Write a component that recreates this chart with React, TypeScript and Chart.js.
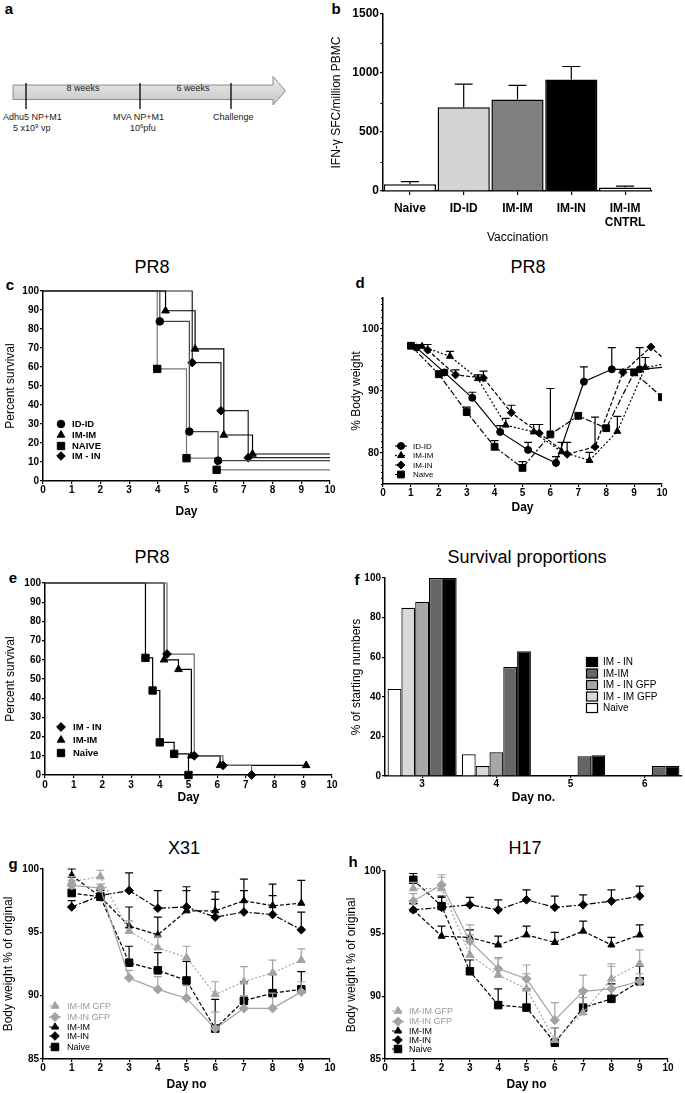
import React, { useEffect, useRef } from 'react';
import { Chart, registerables } from 'chart.js';
Chart.register(...registerables);

const FONT = "'Liberation Sans', Arial, Helvetica, sans-serif";

// ---------------- Panel b: IFN-gamma ELISpot ----------------
const bCategories: any[] = ['Naive', 'ID-ID', 'IM-IM', 'IM-IN', ['IM-IM', 'CNTRL']];
const bValues = [58, 710, 775, 945, 30];
const bErrors = [22, 195, 120, 110, 12];
const bYTicks = [0, 500, 1000, 1500];

// ---------------- Panel c: PR8 survival ----------------
const cIdIdDays = [0, 4.07, 5.1, 6.1, 10];
const cIdIdSurv = [100, 84, 26, 10.7, 10.7];
const cImImDays = [0, 4.27, 5.3, 6.3, 7.3, 10];
const cImImSurv = [100, 89.6, 69.5, 24.2, 14.2, 14.2];
const cNaiveDays = [0, 3.98, 5.0, 6.05, 10];
const cNaiveSurv = [100, 59, 12, 5.9, 5.9];
const cImInDays = [0, 5.2, 6.2, 7.15, 10];
const cImInSurv = [100, 62.3, 37, 12.3, 12.3];

// ---------------- Panel d: PR8 body weight ----------------
const dNaiveDays = [1, 2, 3, 4, 5, 6, 7, 8, 9, 10];
const dNaiveWeight = [97.3, 92.7, 86.6, 81.0, 77.6, 83.0, 86.0, 84.0, 93.0, 89.0];
const dNaiveErr = [0.4, 0.5, 0.8, 1.0, 1.0, 7.4, 0, 0, 0, 0];
const dIdIdDays = [1.2, 2.2, 3.2, 4.2, 5.2, 6.2, 7.2, 8.2, 9.2, 10.2];
const dIdIdWeight = [97.0, 93.0, 88.9, 83.4, 80.5, 78.4, 91.5, 93.5, 93.5, 93.9];
const dIdIdErr = [0.3, 0.4, 0.9, 1.0, 1.2, 1.0, 2.4, 3.5, 3.5, 0];
const dImImDays = [1.4, 2.4, 3.4, 4.4, 5.4, 6.4, 7.4, 8.4, 9.4, 10.4];
const dImImWeight = [97.2, 95.6, 92.0, 84.5, 83.4, 80.2, 78.8, 83.5, 93.8, 94.6];
const dImImErr = [0.3, 0.8, 0.6, 1.1, 1.2, 1.5, 1.3, 2.4, 1.6, 0];
const dImInDays = [1.6, 2.6, 3.6, 4.6, 5.6, 6.6, 7.6, 8.6, 9.6, 10.6];
const dImInWeight = [96.6, 92.6, 92.1, 86.5, 83.2, 79.8, 81.0, 93.0, 97.1, 93.0];
const dImInErr = [0.9, 0.8, 1.1, 1.2, 1.4, 1.9, 4.8, 0.4, 0, 0];
const dYTicks = [80, 90, 100];

// ---------------- Panel e: PR8 survival ----------------
const eImInDays = [0, 4.25, 5.2, 6.2, 7.2];
const eImInSurv = [100, 63, 10, 5, 0];
const eImImDays = [0, 4.15, 4.65, 5.1, 6.1, 9.1];
const eImImSurv = [100, 60, 55, 10, 5, 5];
const eNaiveDays = [0, 3.5, 3.75, 4.0, 4.5, 5.0];
const eNaiveSurv = [100, 61, 44, 17, 11, 0];

// ---------------- Panel f: survival proportions ----------------
const fDays = ['3', '4', '5', '6'];
const fNaive = [44, 11, 0, 0];
const fImImGfp = [85, 5, 0, 0];
const fImInGfp = [88, 12, 0, 0];
const fImIm = [100, 55, 10, 5];
const fImIn = [100, 63, 10.5, 5];

// ---------------- Panel g: X31 ----------------
const gDays = [1, 2, 3, 4, 5, 6, 7, 8, 9];
const gImImGfp = [99.0, 99.4, 95.1, 93.8, 93.0, 90.1, 91.1, 91.8, 92.8];
const gImImGfpErr = [0.4, 0.5, 0.8, 0.9, 0.9, 1.0, 1.2, 1.0, 0.9];
const gImInGfp = [98.7, 98.5, 91.4, 90.5, 89.8, 87.4, 89.0, 89.0, 90.3];
const gImInGfpErr = [0.4, 0.3, 0.6, 1.0, 1.0, 1.3, 1.0, 1.2, 0.8];
const gImIm = [99.5, 97.8, 95.5, 94.8, 96.7, 96.7, 97.5, 97.1, 97.3];
const gImImErr = [0.5, 0.5, 1.5, 1.4, 1.6, 0.9, 0.8, 0.8, 1.8];
const gImIn = [97.0, 97.9, 98.3, 96.9, 97.0, 96.2, 96.6, 96.4, 95.2];
const gImInErr = [0.5, 0.5, 1.4, 1.4, 1.6, 2.0, 2.6, 2.4, 1.4];
const gNaive = [98.1, 97.8, 92.6, 92.0, 91.2, 87.4, 89.6, 90.2, 90.5];
const gNaiveErr = [0.3, 0.3, 1.3, 1.4, 1.5, 2.3, 1.5, 1.5, 1.4];

// ---------------- Panel h: H17 ----------------
const hDays = [1, 2, 3, 4, 5, 6, 7, 8, 9];
const hImImGfp = [98.6, 98.6, 93.3, 91.7, 90.6, 86.5, 88.7, 91.4, 92.6];
const hImImGfpErr = [0.5, 0.9, 1.6, 1.3, 1.2, 1.0, 1.2, 1.2, 1.1];
const hImInGfp = [97.6, 98.9, 94.4, 92.2, 91.4, 88.1, 90.4, 90.6, 91.2];
const hImInGfpErr = [0.6, 0.8, 1.3, 0.9, 1.1, 1.4, 1.3, 1.8, 0.6];
const hImIm = [96.9, 94.8, 94.7, 94.1, 94.9, 94.3, 95.2, 94.1, 94.9];
const hImImErr = [0.5, 0.8, 0.6, 0.7, 0.7, 0.8, 0.8, 0.6, 0.8];
const hImIn = [96.9, 97.1, 97.3, 96.9, 97.7, 97.1, 97.3, 97.6, 98.0];
const hImInErr = [0.5, 0.8, 0.6, 0.8, 0.8, 0.9, 0.8, 0.9, 0.8];
const hNaive = [99.3, 97.2, 92.0, 89.3, 89.1, 86.3, 89.1, 89.8, 91.2];
const hNaiveErr = [0.5, 0.8, 0.9, 1.3, 1.5, 1.2, 1.4, 1.2, 1.2];

// ================= helpers =================
const fnt = (size: number, weight: any = 'normal') => ({ family: FONT, size, weight, lineHeight: 1.2 });
const tickGrid = (len: number) => ({ display: true, drawOnChartArea: false, drawTicks: true, tickLength: len, color: '#000', lineWidth: 1.2 });
const axisBorder = { display: true, color: '#000', width: 1.5 };
const plainNum = (v: any) => String(v);

function yLin(o: any) {
  const s: any = {
    type: 'linear', position: 'left', min: o.min, max: o.max,
    afterFit: (sc: any) => { sc.width = o.fit; },
    ticks: { stepSize: o.step, color: '#000', font: o.font, padding: 1, autoSkip: false, callback: plainNum },
    grid: tickGrid(3), border: axisBorder,
    title: { display: true, text: o.title, color: '#000', font: o.titleFont, padding: { top: o.titlePad, bottom: 0 } },
  };
  if (o.tickValues) s.afterBuildTicks = (sc: any) => { sc.ticks = o.tickValues.map((v: number) => ({ value: v })); };
  return s;
}
function xLin(o: any) {
  return {
    type: 'linear', position: 'bottom', min: 0, max: 10,
    afterFit: (sc: any) => { sc.height = o.fit; },
    ticks: { stepSize: 1, color: '#000', font: o.font, padding: o.pad, autoSkip: false, maxRotation: 0, callback: plainNum },
    grid: tickGrid(3), border: axisBorder,
    title: { display: true, text: o.title, color: '#000', font: o.titleFont, padding: { top: 0, bottom: 1 } },
  };
}
function xCat(o: any) {
  return {
    type: 'category', position: 'bottom', offset: true,
    afterFit: (sc: any) => { sc.height = o.fit; },
    ticks: { color: '#000', font: o.font, padding: o.pad, autoSkip: false, maxRotation: 0 },
    grid: { ...tickGrid(o.tickLen), offset: false }, border: axisBorder,
    title: { display: true, text: o.title, color: '#000', font: o.titleFont, padding: { top: 0, bottom: 1 } },
  };
}
function baseOptions(pad: any, scales: any) {
  return {
    responsive: false, animation: false, devicePixelRatio: 1, events: [],
    layout: { padding: pad },
    plugins: { legend: { display: false }, tooltip: { enabled: false }, title: { display: false } },
    scales,
  };
}
function pts(xs: number[], ys: number[]) { return xs.map((x, i) => ({ x, y: ys[i] })); }

function lineDs(label: string, xs: number[], ys: number[], st: any) {
  return {
    label, data: pts(xs, ys),
    borderColor: st.color, backgroundColor: st.fill || st.color,
    borderWidth: st.width || 1.2, borderDash: st.dash || [],
    pointStyle: st.point, pointRadius: st.r, pointBackgroundColor: st.fill || st.color,
    pointBorderColor: st.color, pointBorderWidth: 1, tension: 0, fill: false,
    stepped: st.stepped || false, clip: st.clip === undefined ? false : st.clip,
    errorBars: st.err, errorCap: st.cap || 8, legendR: st.legendR,
  };
}

function drawMarker(ctx: CanvasRenderingContext2D, style: string, x: number, y: number, r: number, fill: string, stroke: string) {
  ctx.beginPath();
  if (style === 'circle') ctx.arc(x, y, r, 0, Math.PI * 2);
  else if (style === 'triangle') {
    let a = 0;
    ctx.moveTo(x + Math.sin(a) * r, y - Math.cos(a) * r);
    a += (2 * Math.PI) / 3; ctx.lineTo(x + Math.sin(a) * r, y - Math.cos(a) * r);
    a += (2 * Math.PI) / 3; ctx.lineTo(x + Math.sin(a) * r, y - Math.cos(a) * r);
    ctx.closePath();
  } else if (style === 'rect') {
    const s = Math.SQRT1_2 * r; ctx.rect(x - s, y - s, 2 * s, 2 * s);
  } else if (style === 'rectRot') {
    ctx.moveTo(x - r, y); ctx.lineTo(x, y - r); ctx.lineTo(x + r, y); ctx.lineTo(x, y + r); ctx.closePath();
  }
  ctx.fillStyle = fill; ctx.fill();
  ctx.lineWidth = 1; ctx.strokeStyle = stroke; ctx.setLineDash([]); ctx.stroke();
}

const errorBarPlugin = {
  id: 'errorBars',
  beforeDatasetDraw(chart: any, args: any) {
    const ds: any = chart.data.datasets[args.index];
    const errs = ds.errorBars;
    if (!errs) return;
    const meta = chart.getDatasetMeta(args.index);
    const yScale = chart.scales[meta.yAxisID];
    const ctx = chart.ctx;
    ctx.save();
    ctx.strokeStyle = ds.errorColor || (typeof ds.borderColor === 'string' ? ds.borderColor : '#000');
    ctx.lineWidth = 1.2;
    ctx.setLineDash([]);
    const cap = (ds.errorCap || 8) / 2;
    meta.data.forEach((el: any, i: number) => {
      const e = errs[i];
      if (!e) return;
      const raw = ds.data[i];
      const v = typeof raw === 'number' ? raw : raw.y;
      const x = el.x, y0 = el.y, y1 = yScale.getPixelForValue(v + e);
      ctx.beginPath();
      ctx.moveTo(x, y0); ctx.lineTo(x, y1);
      ctx.moveTo(x - cap, y1); ctx.lineTo(x + cap, y1);
      ctx.stroke();
    });
    ctx.restore();
  },
};

function minorTicks(values: number[], len: number) {
  return {
    id: 'minorTicks',
    afterDraw(chart: any) {
      const s = chart.scales.y; const ctx = chart.ctx;
      ctx.save(); ctx.strokeStyle = '#000'; ctx.lineWidth = 1.1;
      values.forEach((v) => {
        const p = Math.round(s.getPixelForValue(v)) + 0.5;
        ctx.beginPath(); ctx.moveTo(s.right - len, p); ctx.lineTo(s.right, p); ctx.stroke();
      });
      ctx.restore();
    },
  };
}

function makeLegend(spec: any) {
  return {
    id: 'pageLegend',
    afterDraw(chart: any) {
      const ctx = chart.ctx;
      ctx.save();
      spec.items.forEach((it: any, i: number) => {
        const ds: any = chart.data.datasets[it.ds];
        const x = spec.x - spec.left, y = spec.y[i] - spec.top;
        if (spec.box) {
          ctx.fillStyle = ds.backgroundColor; ctx.strokeStyle = '#000'; ctx.lineWidth = 1.2;
          ctx.fillRect(x - spec.box.w / 2, y - spec.box.h / 2, spec.box.w, spec.box.h);
          ctx.strokeRect(x - spec.box.w / 2, y - spec.box.h / 2, spec.box.w, spec.box.h);
        } else {
          if (spec.lineLen) {
            ctx.strokeStyle = ds.borderColor; ctx.lineWidth = ds.borderWidth;
            ctx.setLineDash(ds.borderDash || []);
            ctx.beginPath(); ctx.moveTo(x - spec.lineLen / 2, y); ctx.lineTo(x + spec.lineLen / 2, y); ctx.stroke();
          }
          const r = ds.legendR || (Array.isArray(ds.pointRadius) ? Math.max(...ds.pointRadius) : ds.pointRadius);
          drawMarker(ctx, ds.pointStyle, x, y, r, ds.pointBackgroundColor, ds.pointBorderColor);
        }
        ctx.fillStyle = it.color || '#000';
        ctx.font = spec.font;
        ctx.textBaseline = 'middle'; ctx.textAlign = 'left';
        ctx.fillText(ds.label, spec.textX - spec.left, y + 0.5);
      });
      ctx.restore();
    },
  };
}

function ChartCanvas({ left, top, width, height, make }: any) {
  const ref = useRef<HTMLCanvasElement | null>(null);
  useEffect(() => {
    const chart = new Chart(ref.current as HTMLCanvasElement, make());
    return () => chart.destroy();
  }, []);
  return <canvas ref={ref} width={width} height={height} style={{ position: 'absolute', left, top, width, height }} />;
}

function Txt({ x, y, size, weight, children }: any) {
  return (
    <div style={{ position: 'absolute', left: x, top: y, transform: 'translate(-50%, -50%)', fontFamily: FONT, fontSize: size, fontWeight: weight || 'normal', whiteSpace: 'nowrap', color: '#000', lineHeight: 1.15 }}>
      {children}
    </div>
  );
}

// ================= chart configs =================
function makeB() {
  return {
    type: 'bar',
    data: {
      labels: bCategories,
      datasets: [{
        label: 'IFN-γ', data: bValues,
        backgroundColor: ['#ffffff', '#d4d4d4', '#7f7f7f', '#000000', '#ffffff'],
        borderColor: '#000', borderWidth: 1.5, barPercentage: 1, categoryPercentage: 0.97,
        errorBars: bErrors, errorCap: 18, errorColor: '#000',
      }],
    },
    options: baseOptions({ top: 14, right: 8, left: 0, bottom: 0 }, {
      x: xCat({ fit: 55, font: fnt(12, 'bold'), pad: 6, tickLen: 4, title: 'Vaccination', titleFont: fnt(12) }),
      y: yLin({ min: 0, max: 1500, step: 500, fit: 55, font: fnt(12, 'bold'), tickValues: bYTicks, title: 'IFN-γ SFC/million PBMC', titleFont: fnt(12), titlePad: 1.8 }),
    }),
    plugins: [errorBarPlugin, minorTicks([250, 750, 1250], 2.5)],
  };
}

function makeC() {
  const L = 0, T = 280;
  const rr = (n: number, r: number) => Array.from({ length: n }, (_, i) => (i === 0 || i === n - 1 ? 0 : r));
  return {
    type: 'line',
    data: {
      datasets: [
        lineDs('ID-ID', cIdIdDays, cIdIdSurv, { color: '#444', fill: '#000', point: 'circle', r: rr(cIdIdDays.length, 3.8), stepped: true, legendR: 3.8 }),
        lineDs('IM-IM', cImImDays, cImImSurv, { color: '#000', fill: '#000', point: 'triangle', r: rr(cImImDays.length, 4.4), stepped: true, legendR: 4.4 }),
        lineDs('NAIVE', cNaiveDays, cNaiveSurv, { color: '#777', fill: '#000', point: 'rect', r: rr(cNaiveDays.length, 5.2), stepped: true, legendR: 5.2 }),
        lineDs('IM - IN', cImInDays, cImInSurv, { color: '#222', fill: '#000', point: 'rectRot', r: rr(cImInDays.length, 4.3), stepped: true, legendR: 4.3 }),
      ].map((d: any) => ({ ...d, pointBorderColor: '#000' })),
    },
    options: baseOptions({ top: 11, right: 10, left: 0, bottom: 0 }, {
      x: xLin({ fit: 39, font: fnt(10, 'bold'), pad: 0, title: 'Day', titleFont: fnt(12, 'bold') }),
      y: yLin({ min: 0, max: 100, step: 10, fit: 43, font: fnt(10, 'bold'), title: 'Percent survival', titleFont: fnt(12), titlePad: 3.8 }),
    }),
    plugins: [makeLegend({ left: L, top: T, x: 61, textX: 72, y: [424, 435, 446, 456], font: `bold 9.5px ${FONT}`, lineLen: 0, items: [{ ds: 0 }, { ds: 1 }, { ds: 2 }, { ds: 3 }] })],
  };
}

function makeD() {
  const L = 345, T = 290;
  const minors: number[] = [];
  for (let v = 75; v <= 105; v += 1) if (v % 10 !== 0) minors.push(v);
  return {
    type: 'line',
    data: {
      datasets: [
        lineDs('ID-ID', dIdIdDays, dIdIdWeight, { color: '#000', point: 'circle', r: 3.5, err: dIdIdErr, clip: 0 }),
        lineDs('IM-IM', dImImDays, dImImWeight, { color: '#000', point: 'triangle', r: 4, dash: [2, 2], err: dImImErr, clip: 0 }),
        lineDs('IM-IN', dImInDays, dImInWeight, { color: '#000', point: 'rectRot', r: 4, dash: [4, 2], err: dImInErr, clip: 0 }),
        lineDs('Naive', dNaiveDays, dNaiveWeight, { color: '#000', point: 'rect', r: 4.8, dash: [6, 2, 2, 2], err: dNaiveErr, clip: 0 }),
      ],
    },
    options: baseOptions({ top: 8, right: 8, left: 0, bottom: 0 }, {
      x: xLin({ fit: 32, font: fnt(10, 'bold'), pad: 0, title: 'Day', titleFont: fnt(12, 'bold') }),
      y: yLin({ min: 75, max: 105, step: 10, fit: 38, font: fnt(10, 'bold'), tickValues: dYTicks, title: '% Body weight', titleFont: fnt(12), titlePad: 4.8 }),
    }),
    plugins: [errorBarPlugin, minorTicks(minors, 2), makeLegend({ left: L, top: T, x: 401, textX: 413, y: [446, 455.5, 465, 474.5], font: `8px ${FONT}`, lineLen: 12, items: [{ ds: 0 }, { ds: 1 }, { ds: 2 }, { ds: 3 }] })],
  };
}

function makeE() {
  const L = 0, T = 573;
  const rr = (n: number, r: number) => Array.from({ length: n }, (_, i) => (i === 0 ? 0 : r));
  return {
    type: 'line',
    data: {
      datasets: [
        lineDs('IM - IN', eImInDays, eImInSurv, { color: '#666', fill: '#000', point: 'rectRot', r: rr(eImInDays.length, 4.4), stepped: true, legendR: 4.4 }),
        lineDs('IM-IM', eImImDays, eImImSurv, { color: '#000', fill: '#000', point: 'triangle', r: rr(eImImDays.length, 4.4), stepped: true, legendR: 4.4 }),
        lineDs('Naive', eNaiveDays, eNaiveSurv, { color: '#000', fill: '#000', point: 'rect', r: rr(eNaiveDays.length, 5.2), stepped: true, legendR: 5.2 }),
      ].map((d: any) => ({ ...d, pointBorderColor: '#000' })),
    },
    options: baseOptions({ top: 10, right: 10, left: 0, bottom: 0 }, {
      x: xLin({ fit: 31, font: fnt(10, 'bold'), pad: 1, title: 'Day', titleFont: fnt(12, 'bold') }),
      y: yLin({ min: 0, max: 100, step: 10, fit: 45, font: fnt(10, 'bold'), title: 'Percent survival', titleFont: fnt(12), titlePad: 3.8 }),
    }),
    plugins: [makeLegend({ left: L, top: T, x: 61, textX: 73, y: [727, 740, 753], font: `bold 9.5px ${FONT}`, lineLen: 0, items: [{ ds: 0 }, { ds: 1 }, { ds: 2 }] })],
  };
}

function makeF() {
  const L = 345, T = 570;
  const bar = (label: string, data: number[], color: string) => ({ label, data, backgroundColor: color, borderColor: '#000', borderWidth: 1.2, barPercentage: 1, categoryPercentage: 0.93 });
  return {
    type: 'bar',
    data: {
      labels: fDays,
      datasets: [
        bar('Naive', fNaive, '#ffffff'),
        bar('IM - IM GFP', fImImGfp, '#d9d9d9'),
        bar('IM - IN GFP', fImInGfp, '#a6a6a6'),
        bar('IM-IM', fImIm, '#666666'),
        bar('IM - IN', fImIn, '#000000'),
      ],
    },
    options: baseOptions({ top: 8, right: 3, left: 0, bottom: 0 }, {
      x: xCat({ fit: 30, font: fnt(10, 'bold'), pad: 0, tickLen: 2, title: 'Day no.', titleFont: fnt(12, 'bold') }),
      y: yLin({ min: 0, max: 100, step: 20, fit: 40, font: fnt(10, 'bold'), title: '% of starting numbers', titleFont: fnt(12), titlePad: 4.8 }),
    }),
    plugins: [makeLegend({ left: L, top: T, x: 592, textX: 603, y: [662, 673.5, 685, 696.5, 708], font: `10px ${FONT}`, box: { w: 11, h: 9 }, items: [{ ds: 4 }, { ds: 3 }, { ds: 2 }, { ds: 1 }, { ds: 0 }] })],
  };
}

function weightSets(days: number[], s: any) {
  return [
    lineDs('IM-IM GFP', days, s.imImGfp, { color: '#a3a3a3', point: 'triangle', r: 4.6, dash: [2, 2], err: s.imImGfpErr }),
    lineDs('IM-IN GFP', days, s.imInGfp, { color: '#a3a3a3', point: 'rectRot', r: 4.6, err: s.imInGfpErr }),
    lineDs('IM-IM', days, s.imIm, { color: '#000', point: 'triangle', r: 4.1, dash: [4, 2], err: s.imImErr }),
    lineDs('IM-IN', days, s.imIn, { color: '#000', point: 'rectRot', r: 4.3, dash: [6, 2, 2, 2], err: s.imInErr }),
    lineDs('Naive', days, s.naive, { color: '#000', point: 'rect', r: 5.3, dash: [4, 2], err: s.naiveErr }),
  ];
}

function makeG() {
  const L = 0, T = 858;
  return {
    type: 'line',
    data: { datasets: weightSets(gDays, { imImGfp: gImImGfp, imImGfpErr: gImImGfpErr, imInGfp: gImInGfp, imInGfpErr: gImInGfpErr, imIm: gImIm, imImErr: gImImErr, imIn: gImIn, imInErr: gImInErr, naive: gNaive, naiveErr: gNaiveErr }) },
    options: baseOptions({ top: 11, right: 10, left: 0, bottom: 0 }, {
      x: xLin({ fit: 34, font: fnt(10, 'bold'), pad: 0, title: 'Day no', titleFont: fnt(12, 'bold') }),
      y: yLin({ min: 85, max: 100, step: 5, fit: 43, font: fnt(10, 'bold'), title: 'Body weight % of original', titleFont: fnt(12), titlePad: 1.8 }),
    }),
    plugins: [errorBarPlugin, makeLegend({ left: L, top: T, x: 55, textX: 67, y: [1006, 1017, 1027, 1036, 1047], font: `9px ${FONT}`, lineLen: 12, items: [{ ds: 0, color: '#999' }, { ds: 1, color: '#999' }, { ds: 2 }, { ds: 3 }, { ds: 4 }] })],
  };
}

function makeH() {
  const L = 340, T = 860;
  return {
    type: 'line',
    data: { datasets: weightSets(hDays, { imImGfp: hImImGfp, imImGfpErr: hImImGfpErr, imInGfp: hImInGfp, imInGfpErr: hImInGfpErr, imIm: hImIm, imImErr: hImImErr, imIn: hImIn, imInErr: hImInErr, naive: hNaive, naiveErr: hNaiveErr }) },
    options: baseOptions({ top: 11, right: 7, left: 0, bottom: 0 }, {
      x: xLin({ fit: 34, font: fnt(10, 'bold'), pad: 0, title: 'Day no', titleFont: fnt(12, 'bold') }),
      y: yLin({ min: 85, max: 100, step: 5, fit: 45, font: fnt(10, 'bold'), title: 'Body weight % of original', titleFont: fnt(12), titlePad: 4.8 }),
    }),
    plugins: [errorBarPlugin, makeLegend({ left: L, top: T, x: 398, textX: 409, y: [1011, 1021.5, 1031, 1040, 1049], font: `9px ${FONT}`, lineLen: 12, items: [{ ds: 0, color: '#999' }, { ds: 1, color: '#999' }, { ds: 2 }, { ds: 3 }, { ds: 4 }] })],
  };
}

function PanelA() {
  const t = { fontFamily: FONT, fontSize: 9, fill: '#222' } as any;
  return (
    <svg width={300} height={140} style={{ position: 'absolute', left: 0, top: 0 }}>
      <defs>
        <linearGradient id="arrowGrad" x1="0" y1="0" x2="0" y2="1">
          <stop offset="0" stopColor="#ececec" />
          <stop offset="1" stopColor="#c6c6c6" />
        </linearGradient>
      </defs>
      <path d="M13,85 L273,85 L273,76.5 L285.5,91 L273,105 L273,99.5 L13,99.5 Z" fill="url(#arrowGrad)" stroke="#8c8c8c" strokeWidth={1} />
      <line x1={26} y1={83} x2={26} y2={109} stroke="#000" strokeWidth={1.3} />
      <line x1={140} y1={83} x2={140} y2={109} stroke="#000" strokeWidth={1.3} />
      <line x1={231} y1={83} x2={231} y2={109} stroke="#000" strokeWidth={1.3} />
      <text x={83} y={91} textAnchor="middle" {...t}>8 weeks</text>
      <text x={193} y={91} textAnchor="middle" {...t}>6 weeks</text>
      <text x={3} y={120} {...t}>Adhu5  NP+M1</text>
      <text x={13} y={131} {...t}>5 x10<tspan fontSize={6} dy={-3}>9</tspan><tspan dy={3}> vp</tspan></text>
      <text x={113} y={120} {...t}>MVA  NP+M1</text>
      <text x={130} y={131} {...t}>10<tspan fontSize={6} dy={-3}>6</tspan><tspan dy={3}>pfu</tspan></text>
      <text x={213} y={120} {...t}>Challenge</text>
    </svg>
  );
}

export default function App() {
  return (
    <div style={{ position: 'absolute', left: 0, top: 0, width: 685, height: 1093, background: '#fff', overflow: 'hidden' }}>
      <PanelA />
      <Txt x={9} y={9} size={15} weight="bold">a</Txt>
      <Txt x={336} y={9} size={15} weight="bold">b</Txt>
      <Txt x={10} y={285} size={15} weight="bold">c</Txt>
      <Txt x={360} y={283} size={15} weight="bold">d</Txt>
      <Txt x={13} y={578} size={15} weight="bold">e</Txt>
      <Txt x={357} y={580} size={15} weight="bold">f</Txt>
      <Txt x={13} y={864} size={15} weight="bold">g</Txt>
      <Txt x={353} y={862} size={15} weight="bold">h</Txt>

      <Txt x={152} y={267} size={18}>PR8</Txt>
      <Txt x={528} y={267} size={18}>PR8</Txt>
      <Txt x={152} y={557} size={18}>PR8</Txt>
      <Txt x={527} y={557} size={18}>Survival proportions</Txt>
      <Txt x={184} y={848} size={18}>X31</Txt>
      <Txt x={525} y={848} size={18}>H17</Txt>

      <ChartCanvas left={328} top={0} width={332} height={246} make={makeB} />
      <ChartCanvas left={0} top={280} width={340} height={240} make={makeC} />
      <ChartCanvas left={345} top={290} width={325} height={226} make={makeD} />
      <ChartCanvas left={0} top={573} width={342} height={233} make={makeE} />
      <ChartCanvas left={345} top={570} width={340} height={236} make={makeF} />
      <ChartCanvas left={0} top={858} width={340} height={235} make={makeG} />
      <ChartCanvas left={340} top={860} width={335} height={233} make={makeH} />
    </div>
  );
}
